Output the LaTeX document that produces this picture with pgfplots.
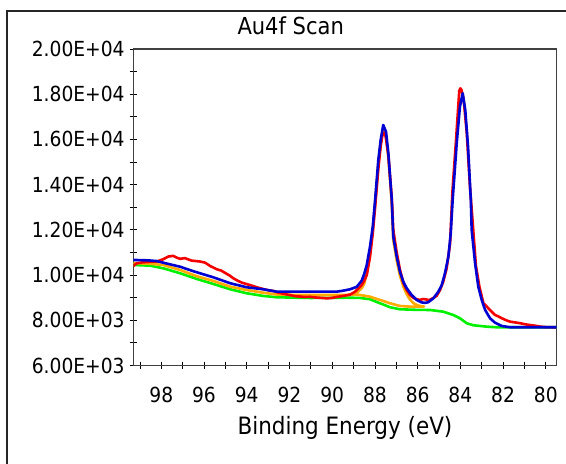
\documentclass[border=0pt]{standalone}
\usepackage{pgfplots}
\pgfplotsset{compat=1.18}
\usepackage{fontspec}
\setmainfont{DejaVu Sans Condensed}
\definecolor{cred}{RGB}{245,0,0}
\definecolor{corange}{RGB}{255,170,0}
\definecolor{cgreen}{RGB}{0,240,0}
\definecolor{cblue}{RGB}{0,0,210}
\definecolor{axgray}{RGB}{64,64,64}
\begin{document}
\begin{tikzpicture}[x=1pt,y=1pt]
\useasboundingbox (0,0) rectangle (566,464);
\begin{scope}
\clip (0,0) rectangle (566,464);
\draw[line width=2pt,black!85] (7.3,-10) -- (7.3,453.3) -- (600,453.3);
\end{scope}
\begin{axis}[
  scale only axis,
  width=423.4pt, height=316.5pt,
  at={(133.3pt,98.5pt)}, anchor=south west,
  x dir=reverse,
  xmin=79.49, xmax=99.31,
  ymin=6000, ymax=20000,
  scaled y ticks=false, scaled x ticks=false,
  xtick={80,82,...,98},
  xticklabels={80,82,84,86,88,90,92,94,96,98},
  minor xtick={81,83,...,99},
  ytick={6000,8000,...,20000},
  yticklabels={6.00E+03,8.00E+03,1.00E+04,1.20E+04,1.40E+04,1.60E+04,1.80E+04,2.00E+04},
  minor ytick={7000,9000,...,19000},
  xtick pos=bottom, ytick pos=left,
  tick align=center,
  major tick length=7pt, minor tick length=7pt,
  every tick/.style={black, line width=0.8pt},
  axis line style={draw=axgray, line width=1.2pt},
  /pgf/number format/assume math mode=true,
  tick label style={font=\fontsize{20.75}{24}\selectfont, inner sep=0pt},
  yticklabel style={anchor=east, xshift=-5pt},
  xticklabel style={anchor=north, yshift=-17.5pt},
  title={Au4f Scan},
  title style={font=\fontsize{23.4}{26}\selectfont, at={(axis description cs:0.3718,1)}, anchor=base, yshift=8pt, inner sep=0pt},
  xlabel={Binding Energy (eV)},
  xlabel style={font=\fontsize{23.9}{27}\selectfont, at={(axis description cs:0.5,0)}, anchor=base, yshift=-68.5pt, inner sep=0pt},
  every axis plot/.append style={line width=2.6pt, line join=round},
  clip=true,
]
% green background
\addplot[cgreen] coordinates {
(99.31,10447) (98.53,10416) (97.91,10301) (97.12,10080) (96.34,9828) (95.56,9606)
(94.78,9372) (94.00,9195) (93.22,9076) (92.60,9018) (91.04,8987) (89.32,9000)
(88.70,8990) (88.23,8930) (87.76,8753) (87.29,8576) (86.83,8487) (86.00,8460)
(85.42,8456) (84.80,8381) (84.33,8235) (84.02,8089) (83.70,7868) (83.39,7780)
(82.76,7718) (82.30,7691) (79.49,7691)
};
% orange component (loop)
\addplot[corange] coordinates {
(99.31,10530) (98.53,10500) (97.91,10447) (97.12,10226) (96.34,9950) (95.56,9739)
(94.78,9487) (94.00,9341) (93.22,9218) (92.60,9140) (91.50,9120) (89.32,9120)
(88.85,9200) (88.62,9420) (88.50,9620) (88.38,10100) (88.23,10900) (88.10,12000)
(87.99,13200) (87.84,14900) (87.73,15850) (87.61,16450) (87.48,16200) (87.37,15200)
(87.21,13150) (87.14,11550) (86.98,10650) (86.83,9980) (86.67,9500) (86.51,9150)
(86.36,8920) (86.20,8760) (86.04,8680) (85.89,8630) (85.70,8610)
(85.89,8602) (86.12,8602) (86.36,8605) (86.83,8633) (87.29,8753) (87.76,8899)
(88.23,9045) (88.70,9120) (89.17,9150) (89.32,9120)
};
% red data
\addplot[cred] coordinates {
(99.31,10400) (99.15,10520) (98.90,10560) (98.60,10580) (98.21,10600) (97.91,10700)
(97.67,10820) (97.44,10850) (97.25,10760) (97.12,10720) (96.89,10750) (96.70,10680)
(96.58,10640) (96.19,10600) (95.95,10550) (95.71,10400) (95.41,10260) (95.20,10200)
(95.02,10100) (94.80,9980) (94.63,9860) (94.40,9740) (94.24,9670) (94.00,9600)
(93.85,9560) (93.53,9460) (93.22,9380) (92.95,9320) (92.76,9300) (92.50,9220)
(92.30,9180) (91.97,9110) (91.70,9060) (91.50,9050) (91.30,9030) (91.04,9040)
(90.80,9010) (90.50,8990) (90.24,8970) (90.00,8990) (89.80,9030) (89.48,9080)
(89.17,9130) (88.95,9250) (88.85,9340) (88.62,9560) (88.50,9750) (88.38,10000)
(88.23,10800) (88.10,11850) (87.99,13000) (87.84,14700) (87.73,15700) (87.64,16250)
(87.58,16300) (87.50,16150) (87.37,15300) (87.21,13400) (87.14,12000) (86.98,11000)
(86.83,10250) (86.67,9650) (86.51,9330) (86.36,9120) (86.20,8990) (86.04,8930)
(85.89,8900) (85.75,8940) (85.65,8930) (85.50,8900) (85.42,8910) (85.26,8990)
(85.11,9080) (84.95,9340) (84.80,9710) (84.64,10300) (84.48,11400) (84.37,13700)
(84.20,16000) (84.05,18150) (84.00,18260) (83.95,18200) (83.85,17800) (83.70,16300)
(83.55,13900) (83.42,12300) (83.27,10400) (83.11,9500) (82.92,8750) (82.80,8650)
(82.69,8530) (82.50,8350) (82.38,8240) (82.20,8160) (82.06,8090) (81.85,8000)
(81.67,7940) (81.40,7900) (81.20,7870) (80.95,7820) (80.73,7790) (80.50,7760)
(80.26,7720) (80.00,7700) (79.52,7690)
};
% blue envelope
\addplot[cblue] coordinates {
(99.31,10670) (98.60,10650) (98.21,10620) (97.70,10500) (97.12,10370) (96.50,10170)
(95.56,9900) (94.78,9640) (94.00,9460) (93.22,9370) (92.60,9266) (91.00,9266)
(89.79,9266) (89.48,9310) (89.17,9370) (88.85,9480) (88.62,9750) (88.50,10050)
(88.38,10450) (88.23,11256) (88.10,12141) (87.99,13322) (87.84,15091) (87.73,15975)
(87.61,16639) (87.48,16343) (87.37,15387) (87.21,13322) (87.14,11698) (86.98,10814)
(86.83,10150) (86.67,9708) (86.51,9416) (86.28,9120) (86.04,8899) (85.81,8790)
(85.65,8770) (85.50,8800) (85.26,8974) (85.03,9266) (84.87,9562) (84.72,10080)
(84.56,10814) (84.45,11849) (84.36,13322) (84.17,15829) (84.02,17448) (83.89,18041)
(83.77,17302) (83.64,15679) (83.51,13322) (83.47,12000) (83.31,10522) (83.16,9487)
(83.00,8899) (82.84,8456) (82.61,8089) (82.38,7895) (82.06,7749) (81.67,7691)
(79.49,7691)
};
\end{axis}
\end{tikzpicture}
\end{document}
